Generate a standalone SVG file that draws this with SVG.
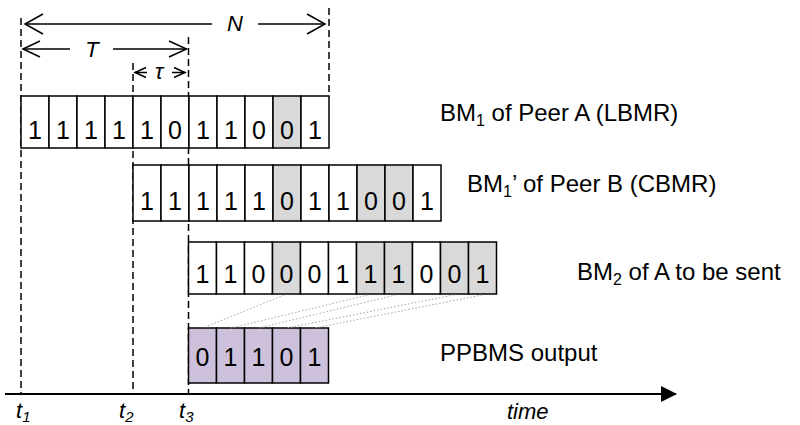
<svg xmlns="http://www.w3.org/2000/svg" width="800" height="425" viewBox="0 0 800 425">
<style>
.cell{fill:#ffffff;stroke:#000;stroke-width:1.5}
.g{fill:#d9d9d9}
.p{fill:#ccc0da}
.d{font-family:"Liberation Sans",Arial,sans-serif;font-size:25px;text-anchor:middle;fill:#000}
.lbl{font-family:"Liberation Sans",Arial,sans-serif;font-size:24px;fill:#000}
.it{font-family:"Liberation Sans",Arial,sans-serif;font-style:italic;font-size:22px;fill:#000}
.dash{stroke:#000;stroke-width:1.5;stroke-dasharray:7 4;fill:none}
.ln{stroke:#000;stroke-width:1.5;fill:none}
.dot{stroke:#a6a6a6;stroke-width:1;stroke-dasharray:1.5 2;fill:none}
</style>
<defs>
<marker id="ah" viewBox="0 0 16 16" refX="15" refY="8" markerWidth="16" markerHeight="16" markerUnits="userSpaceOnUse" orient="auto">
<path d="M0,0 L16,8 L0,16 z" fill="#000"/>
</marker>
</defs>

<g id="guides">
<line class="dash" x1="21" y1="18" x2="21" y2="394"/>
<line class="dash" x1="133" y1="63" x2="133" y2="394"/>
<line class="dash" x1="188.5" y1="37" x2="188.5" y2="394"/>
<line class="dash" x1="329" y1="8" x2="329" y2="96"/>
</g>

<g id="row1">
<rect class="cell" x="21" y="96" width="28" height="52"/>
<rect class="cell" x="49" y="96" width="28" height="52"/>
<rect class="cell" x="77" y="96" width="28" height="52"/>
<rect class="cell" x="105" y="96" width="28" height="52"/>
<rect class="cell" x="133" y="96" width="28" height="52"/>
<rect class="cell" x="161" y="96" width="28" height="52"/>
<rect class="cell" x="189" y="96" width="28" height="52"/>
<rect class="cell" x="217" y="96" width="28" height="52"/>
<rect class="cell" x="245" y="96" width="28" height="52"/>
<rect class="cell g" x="273" y="96" width="28" height="52"/>
<rect class="cell" x="301" y="96" width="28" height="52"/>
<text class="d" y="139"><tspan x="35">1</tspan><tspan x="63">1</tspan><tspan x="91">1</tspan><tspan x="119">1</tspan><tspan x="147">1</tspan><tspan x="175">0</tspan><tspan x="203">1</tspan><tspan x="231">1</tspan><tspan x="259">0</tspan><tspan x="287">0</tspan><tspan x="315">1</tspan></text>
<text class="lbl" x="440" y="121">BM<tspan font-size="16" dy="5">1</tspan><tspan dy="-5"> of Peer A (LBMR)</tspan></text>
</g>

<g id="row2">
<rect class="cell" x="133" y="165" width="28" height="56"/>
<rect class="cell" x="161" y="165" width="28" height="56"/>
<rect class="cell" x="189" y="165" width="28" height="56"/>
<rect class="cell" x="217" y="165" width="28" height="56"/>
<rect class="cell" x="245" y="165" width="28" height="56"/>
<rect class="cell g" x="273" y="165" width="28" height="56"/>
<rect class="cell" x="301" y="165" width="28" height="56"/>
<rect class="cell" x="329" y="165" width="28" height="56"/>
<rect class="cell g" x="357" y="165" width="28" height="56"/>
<rect class="cell g" x="385" y="165" width="28" height="56"/>
<rect class="cell" x="413" y="165" width="28" height="56"/>
<text class="d" y="210"><tspan x="147">1</tspan><tspan x="175">1</tspan><tspan x="203">1</tspan><tspan x="231">1</tspan><tspan x="259">1</tspan><tspan x="287">0</tspan><tspan x="315">1</tspan><tspan x="343">1</tspan><tspan x="371">0</tspan><tspan x="399">0</tspan><tspan x="427">1</tspan></text>
<text class="lbl" x="467" y="192">BM<tspan font-size="16" dy="5">1</tspan><tspan dy="-5">’ of Peer B (CBMR)</tspan></text>
</g>

<g id="row3">
<rect class="cell" x="188.5" y="242" width="28" height="52"/>
<rect class="cell" x="216.5" y="242" width="28" height="52"/>
<rect class="cell" x="244.5" y="242" width="28" height="52"/>
<rect class="cell g" x="272.5" y="242" width="28" height="52"/>
<rect class="cell" x="300.5" y="242" width="28" height="52"/>
<rect class="cell" x="328.5" y="242" width="28" height="52"/>
<rect class="cell g" x="356.5" y="242" width="28" height="52"/>
<rect class="cell g" x="384.5" y="242" width="28" height="52"/>
<rect class="cell" x="412.5" y="242" width="28" height="52"/>
<rect class="cell g" x="440.5" y="242" width="28" height="52"/>
<rect class="cell g" x="468.5" y="242" width="28" height="52"/>
<text class="d" y="283"><tspan x="202.5">1</tspan><tspan x="230.5">1</tspan><tspan x="258.5">0</tspan><tspan x="286.5">0</tspan><tspan x="314.5">0</tspan><tspan x="342.5">1</tspan><tspan x="370.5">1</tspan><tspan x="398.5">1</tspan><tspan x="426.5">0</tspan><tspan x="454.5">0</tspan><tspan x="482.5">1</tspan></text>
<text class="lbl" x="577" y="280">BM<tspan font-size="16" dy="5">2</tspan><tspan dy="-5"> of A to be sent</tspan></text>
</g>

<g id="row4">
<rect class="cell p" x="188.5" y="328" width="28" height="55"/>
<rect class="cell p" x="216.5" y="328" width="28" height="55"/>
<rect class="cell p" x="244.5" y="328" width="28" height="55"/>
<rect class="cell p" x="272.5" y="328" width="28" height="55"/>
<rect class="cell p" x="300.5" y="328" width="28" height="55"/>
<text class="d" y="366"><tspan x="202.5">0</tspan><tspan x="230.5">1</tspan><tspan x="258.5">1</tspan><tspan x="286.5">0</tspan><tspan x="314.5">1</tspan></text>
<text class="lbl" x="440" y="361">PPBMS output</text>
</g>

<g id="connectors">
<line class="dot" x1="284" y1="295" x2="203" y2="328"/>
<line class="dot" x1="368" y1="295" x2="231" y2="328"/>
<line class="dot" x1="396" y1="295" x2="259" y2="328"/>
<line class="dot" x1="454" y1="295" x2="287" y2="328"/>
<line class="dot" x1="482" y1="295" x2="315" y2="328"/>
</g>

<g id="dimensions">
<line class="ln" x1="25" y1="24" x2="212" y2="24"/>
<polyline class="ln" points="43,14 25,24 43,34"/>
<line class="ln" x1="258" y1="24" x2="325" y2="24"/>
<polyline class="ln" points="307,14 325,24 307,34"/>
<text class="it" x="235" y="31" text-anchor="middle">N</text>
<line class="ln" x1="23" y1="49" x2="70" y2="49"/>
<polyline class="ln" points="40,41 23,49 40,57"/>
<line class="ln" x1="113" y1="49" x2="186.5" y2="49"/>
<polyline class="ln" points="169,41 186.5,49 169,57"/>
<text class="it" x="92" y="57" text-anchor="middle">T</text>
<line class="ln" x1="135" y1="72.5" x2="147" y2="72.5"/>
<polyline class="ln" points="146,67.5 135,72.5 146,77.5"/>
<line class="ln" x1="172" y1="72.5" x2="185" y2="72.5"/>
<polyline class="ln" points="174,67.5 185,72.5 174,77.5"/>
<text class="it" x="159" y="79" text-anchor="middle">τ</text>
</g>

<g id="axis">
<line stroke="#000" stroke-width="2" x1="5" y1="394" x2="676" y2="394" marker-end="url(#ah)"/>
<text class="it" x="16" y="418">t<tspan font-size="15" dy="4">1</tspan></text>
<text class="it" x="119" y="418">t<tspan font-size="15" dy="4">2</tspan></text>
<text class="it" x="179" y="418">t<tspan font-size="15" dy="4">3</tspan></text>
<text class="it" x="507" y="419">time</text>
</g>
</svg>
